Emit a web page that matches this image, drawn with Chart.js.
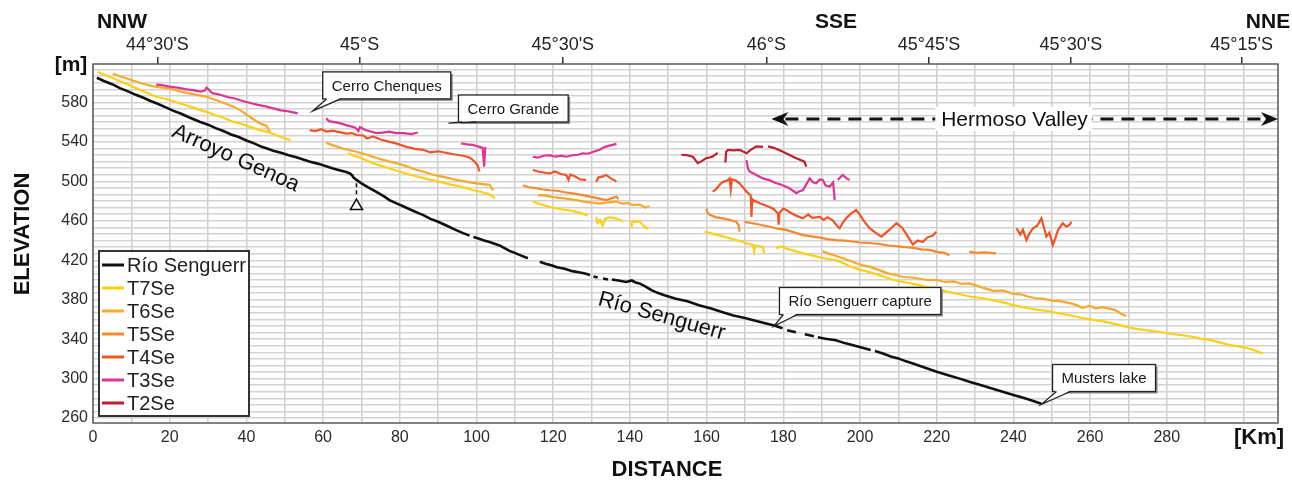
<!DOCTYPE html>
<html>
<head>
<meta charset="utf-8">
<title>Río Senguerr profile</title>
<script src="https://cdn.jsdelivr.net/npm/chart.js@4.4.1/dist/chart.umd.min.js"></script>
<style>
  body { margin: 0; background: #fff; }
  #wrap { width: 1292px; height: 482px; }
</style>
</head>
<body>
<div id="wrap"><canvas id="profile" width="1292" height="482"></canvas></div>
<script>
// DATA (distance in km, elevation in m, null = gap in the profile)
var rioKm = [1,3,5,7,9,11,13,15,17,19,21,23,25,27.8,30,32,34,36,38,40,42,44,45.2,47,49,51,53,55,57,59,61,62.6,64,66,67,67.6,68,68.7,70,72,74,76,77.3,79,81,83,85,86,88,90,92,94.7,96.5,98.2,null,
  99.2,100.5,102,103.4,106,108.6,110,111.5,113.4,null,116.5,118,119.5,121,123,125,127,128.3,129.6,null,130.5,131.6,null,133,134.3,null,
  135.3,137,139,140.5,141.5,142.5,144,145.5,147.2,149,152,155,158,161.2,164,167,170,173,175,177.4,179.8,null,181,183.3,null,185.6,188,null,
  189,191,193.7,196,198,199.9,202.8,null,203.9,206,208,210,212,214,217,220,223,226,228.7,231,234,237,240,243,245,247.3];
var rioElev = [605,601.5,598.5,594.5,591.5,588,585,581.5,578.5,575,571.5,568.5,565,560.5,557.5,554,551,547.5,545,541.5,538.5,535,533.5,531,529,526.5,524.5,522,519.5,517.5,515,513,511.5,509.5,508,506,503.5,501.5,498,493.5,489,484.5,481,478,474.5,471,467.5,466,462,459,455.5,450.5,447.5,445,null,
  443.5,442,440,438.5,435,429.5,427.5,425,422,null,418.5,416.5,415,413,411.5,409,407.5,406.5,405,null,403.5,402.5,null,401.5,400.5,null,
  400.5,399.5,398,399.5,397.5,396.5,393.5,390,387,384.5,381,378.5,374.5,371,367.5,364,361.5,358.5,356.5,354,351,null,349,347,null,345,343,null,
  342,340.5,339,336,334,332,329,null,328,325.5,322.5,320.5,317.5,315,311,307,303.5,300,296.5,294,290.5,287,283.5,280,277.5,274.5];

var t7Km = [1.3,3,5,7,9,11,13,14.5,16.2,18,20,22,24,26,27.8,30,32,34,36.5,38,40,42,43.5,45.2,47,49,51.5,null,
  66.5,68,70,73,75,77,79,81.7,84,86,88,90.4,93,95,97,99.1,101,103,104.2,104.7,null,
  114.7,116.5,119.1,121,123.4,125.5,127.5,129,null,131.2,131.6,132.2,132.9,133.5,134.7,136.5,138.2,null,140.3,140.5,142.5,143.5,144.7,null,
  159.5,161.5,163.5,165.5,167.7,169.5,171,172.1,172.4,172.7,174,174.7,175,null,
  178.2,179.2,179.9,181,183,185.1,187.5,190,192,193.8,196,198,199.9,202,204,206,208,210,212,214.5,217.3,220,223,226,229,232,234.7,237.5,240,243,246,249,252.1,255,258,261,264,267,269.4,272,275,278,281,284,286.8,289,291.5,294,296.5,299,301,303,305.1];
var t7Elev = [611,608,605,601.5,598.5,595,591.5,589,586,584.5,582.5,580,577.5,575,572.5,570,567,564.5,560.5,559,556.5,554,552,550.5,548,545,542,null,
  528.5,526,523.5,518.5,516,513.5,511,508,505.5,503.5,501.5,499.5,497,495.5,493.5,491,489.5,487.5,485,482.5,null,
  479.5,477,474,472.5,471,469.5,467.5,465.5,null,464,458,461,455,462,463.5,462.5,459,null,454,459,459.5,455,452,null,
  449,447,445,443,440.5,438.5,436.5,435.5,429,435,434,433.5,427,null,
  432,434,433.5,431.5,429.5,427,425,422.5,421,420,416.5,413,410.5,408.5,406,403.5,401,399,397.5,395.5,393,391,388,385.5,383,381.5,379.5,377,374.5,372,370,368.5,366,364,361.5,359.5,357.5,355,352.5,350.5,349,347.5,345.5,344,342.3,340.5,339,336.5,334,332.5,331,328.5,325.5];

var t6Km = [5.2,7,9,11,13,16,20,23,26,29.5,32,34.5,36.5,38.5,40.5,42.6,44,45.2,45.7,46.1,null,
  60.8,63,65,67,68.7,71,73,75,77.3,80,82,84,86,88,90,92,94.7,97,99,101,103.4,104,104.4,null,
  116,118,120,123.4,126,128,130,132.1,134,136.5,138,139.5,140.8,142.5,144,145.1,null,
  190.3,192,194,196,199,201,202.5,205,207.5,209.5,211.2,213.5,216,217.3,219.9,222,224.5,226.5,228.5,231,233,234.7,237.3,240,242,244,245.9,248,250,252,254.7,256.5,258.1,259.9,261.5,263,265.1,266.5,268,269.4];
var t6Elev = [609,606.5,604,601.5,599,596,594,591,588.5,586,582.5,579,576,572,566.5,561,558,556.5,553,550.5,null,
  539,536,533.5,531.5,530,527.5,525,522.5,520,517.5,515,512,510,507.5,505.5,504,501.5,500,498.5,497.5,496.5,493,491,null,
  486,485.5,484,482.5,481,479.5,478.5,477.5,478.5,479.5,477.5,478,476,476.5,473.5,475,null,
  429,426.5,424,421.5,417,414.5,413.5,410,406.5,405,403,402.5,401,400,400,398,398.5,396,396.5,393.5,391,389,389.5,386,385.5,383,381.5,381,379,378.5,376.5,374.5,371.5,374,371,372.5,371,369.5,366,363.5];

var t5Km = [112.1,113.5,115,117,119.1,121,123,125.5,127.7,129.5,131.5,133.8,135,136.5,137,null,
  159.9,160.3,160.8,162.5,164.3,166,167.7,168.3,168.6,null,
  169.9,172,174,176.4,178.5,180.5,183,185.1,187,189.5,191.5,193.8,196,198,200,202.5,205,207.5,211.2,214,216,218.1,220,222,223.3,null,
  228.5,230.5,232.5,235.5];
var t5Elev = [496,494,493.5,492,491,490.5,489,487.5,486,484.5,483,481,482.5,484.5,482,null,
  472.5,468,466,463.5,462.5,461,459,456,449,null,
  459,457.5,456,454,452,451,448,445.5,444.5,443,441.5,440.5,440,439,438,437.5,436.5,435,433.5,432.5,431,430.5,428.5,427.5,425,null,
  428.5,427.5,428,427];

var t4Km = [56.5,58,59.5,60.8,62.5,64.3,66,67.5,68.7,70.5,71.5,73,75,77.3,79,81.7,84,86,88,90,92,94,96.5,98,99.1,100.2,100.8,null,
  114.7,116,117.5,119.1,120.5,122,123.4,124,124.5,126,127,128.6,null,131.2,131.8,133,133.8,135,136.5,null,
  161.6,162.5,163.5,164.3,165.5,166,166.3,166.6,167.5,168.6,169.5,170.4,171.5,171.7,171.9,172.1,174,176.4,177.5,178.6,178.8,179,180,180.8,182,183.5,185.1,186.5,187.5,189.5,190.5,191.5,192.9,194,194.7,195.5,196.5,197.7,199,200,201,202.5,204,205.6,206.5,207.7,209.5,211,212.5,213.8,215,216.4,217.5,219,219.9,null,
  240.8,241.8,242.5,243.4,244.2,245.1,246.2,247.3,248,248.6,249.4,250.3,251,251.6,252.9,253.8,254.7,255.1];
var t4Elev = [552,551,553,550.5,551.5,550,548.5,549,547,546.5,543.5,545.5,542.5,540,538.5,535,533,532,529.5,530.5,529,527.5,526,524.5,521.5,517,510,null,
  511.5,510,509,508,510,507.5,506.5,501.5,507,504.5,502,501.5,null,499.5,504,505,506.5,503,500,null,
  489.5,492,497,499.5,501,503,492,502,501,498,494,489.5,486,464,482,481,477.5,474,472,467.5,456,468,472.5,471,468,465,462.5,466.5,463,464,461,463.5,460.5,455,452.5,458,463,467.5,471,466,460,452.5,448,444,447,451,457.5,453,444,436,440,438.5,443,445,449,null,
  452.5,446,451,440.5,447,452.5,455,462.5,453,444,448,435.5,443,450.5,457.5,454,456,459];

var t3Km = [16.5,18,20,22,24,26,28,29.2,29.6,30.2,31,33,35,37,39,41,43,45,47,49,51,53.4,null,
  60.8,61.5,63,64.3,66,68,68.7,69.2,69.6,71,73.9,75.5,77.3,79,81,83,84.7,null,
  96,97.5,99,100.8,101.6,102,102.3,null,
  114.7,116,117.5,119.1,120.5,122,123.4,125,126.5,127.7,129,130.5,132.1,133.5,135,136.5,null,
  170.4,170.8,171.2,172.5,174.7,176.5,178.2,179.5,181,181.6,183.4,184.2,185.1,186,186.9,187.8,188.6,189.5,190.3,191,192.1,193,193.4,null,194.2,195.5,196.5,197.3];
var t3Elev = [598,597.5,596,595,593.5,592.5,591,592,595,593,589.5,588,585.5,584,581.5,579.5,577.5,576,574,572,571,569,null,
  564,561,560,559,557,555,553.5,551,555,552,549,549.5,550.5,549,549,548,549.5,null,
  538.5,537.5,537,535,534,515,535,null,
  525,524,526,526.5,525,526,525,526.5,527,528.5,528,530,532,535,536.5,538,null,
  521.5,513,510,507.5,503,501,498,496.5,494,493,488,490,491,497,503,499,498,502,501.5,496,494.5,499,481,null,501.5,506.5,503,501.5];

var t2Km = [153.4,155,156.4,157.2,157.7,158.5,159.9,161.5,162.9,null,164.9,165.1,165.6,167,168.6,170.4,171.5,173,174.7,null,176,177.5,179.9,181.5,183.4,185.5,186];
var t2Elev = [527,526.5,525,521,518.5,520,523.5,525,529,null,519,530,532,531.5,532,528.5,532,535.5,535,null,535.5,534,530,527,523.5,520,515];

// knickpoint marker below Cerro Chenques
var knickKm = [68.7, 68.7];
var knickElev = [498, 484];
var triangleKm = [68.7];
var triangleElev = [475];

var seriesNames = ["Río Senguerr", "T7Se", "T6Se", "T5Se", "T4Se", "T3Se", "T2Se"];
var seriesColors = ["#111111", "#fcd015", "#f8aa2b", "#f5892d", "#ef5427", "#dc3593", "#bd1f2d"];

// axis ticks
var distTicks = [0,10,20,30,40,50,60,70,80,90,100,110,120,130,140,150,160,170,180,190,200,210,220,230,240,250,260,270,280,290,300];
var latKm = [16.8, 69.5, 122.5, 175.6, 218, 255, 299.5];
var latLabels = ["44°30'S", "45°S", "45°30'S", "46°S", "45°45'S", "45°30'S", "45°15'S"];

// annotations (anchored in km / m)
var notes = [
  {text: "Cerro Chenques", left: 59.9, top: 611, tipKm: 57.3, tipM: 571.4},
  {text: "Cerro Grande", left: 95.3, top: 587.6, tipKm: 92.7, tipM: 559.1},
  {text: "Río Senguerr capture", left: 179, top: 392.4, tipKm: 177.5, tipM: 353.1},
  {text: "Musters lake", left: 250.2, top: 314.3, tipKm: 247.3, tipM: 273.9}
];
var riverLabels = [
  {text: "Arroyo Genoa", km: 37.2, m: 523.4, angle: 24},
  {text: "Río Senguerr", km: 148.3, m: 363.2, angle: 15.5}
];
var valley = {text: "Hermoso Valley", fromKm: 176.9, toKm: 309, m: 563.2, textKm: 240.3};

var FONT = "'Liberation Sans', Arial, Helvetica, sans-serif";
Chart.defaults.font.family = FONT;
Chart.defaults.color = "#2a2a2a";

function toPoints(km, elev) {
  var out = [];
  var last = 0;
  for (var i = 0; i < km.length; i++) {
    if (km[i] === null) {
      out.push({x: last, y: null});
      continue;
    }
    last = km[i];
    out.push({x: km[i], y: elev[i]});
  }
  return out;
}

var allKm = [rioKm, t7Km, t6Km, t5Km, t4Km, t3Km, t2Km];
var allElev = [rioElev, t7Elev, t6Elev, t5Elev, t4Elev, t3Elev, t2Elev];

var datasets = [];
// terraces first, river on top
for (var s = allKm.length - 1; s >= 0; s--) {
  datasets.push({
    label: seriesNames[s],
    data: toPoints(allKm[s], allElev[s]),
    borderColor: seriesColors[s],
    borderWidth: s === 0 ? 2.6 : 2.2,
    pointRadius: 0,
    spanGaps: false,
    tension: 0
  });
}
datasets.push({
  label: "knick",
  data: toPoints(knickKm, knickElev),
  borderColor: "#111",
  borderWidth: 1.5,
  borderDash: [4, 3],
  pointRadius: 0
});
datasets.push({
  label: "knick marker",
  type: "scatter",
  data: toPoints(triangleKm, triangleElev),
  pointStyle: "triangle",
  pointRadius: 7,
  backgroundColor: "#fff",
  borderColor: "#111",
  borderWidth: 1.5
});

// everything drawn on top of the plot
var decorPlugin = {
  id: "decor",
  afterDatasetsDraw: function(chart) {
    var c = chart.ctx;
    var xs = chart.scales.x, ys = chart.scales.y, a = chart.chartArea;
    var px = function(v) { return xs.getPixelForValue(v); };
    var py = function(v) { return ys.getPixelForValue(v); };
    c.save();

    // plot frame
    c.strokeStyle = "#5a5a5a";
    c.lineWidth = 1.5;
    c.strokeRect(a.left, a.top, a.right - a.left, a.bottom - a.top);

    // rotated river names
    c.fillStyle = "#111";
    c.font = "22px " + FONT;
    c.textAlign = "center";
    c.textBaseline = "middle";
    riverLabels.forEach(function(r) {
      c.save();
      c.translate(px(r.km), py(r.m));
      c.rotate(r.angle * Math.PI / 180);
      c.fillText(r.text, 0, 0);
      c.restore();
    });

    // Hermoso Valley double arrow
    var y = py(valley.m), x1 = px(valley.fromKm), x2 = px(valley.toKm);
    c.strokeStyle = "#111";
    c.lineWidth = 3;
    c.setLineDash([13, 8]);
    c.beginPath();
    c.moveTo(x1 + 14, y);
    c.lineTo(x2 - 14, y);
    c.stroke();
    c.setLineDash([]);
    c.fillStyle = "#111";
    c.beginPath();
    c.moveTo(x1, y); c.lineTo(x1 + 17, y - 7); c.lineTo(x1 + 12, y); c.lineTo(x1 + 17, y + 7); c.closePath();
    c.fill();
    c.beginPath();
    c.moveTo(x2, y); c.lineTo(x2 - 17, y - 7); c.lineTo(x2 - 12, y); c.lineTo(x2 - 17, y + 7); c.closePath();
    c.fill();
    c.font = "21px " + FONT;
    var tw = c.measureText(valley.text).width;
    var tx = px(valley.textKm);
    c.fillStyle = "#fff";
    c.fillRect(tx - tw / 2 - 6, y - 12, tw + 10, 24);
    c.fillStyle = "#111";
    c.fillText(valley.text, tx, y + 1);

    // callout boxes
    c.font = "15px " + FONT;
    c.textAlign = "left";
    notes.forEach(function(n) {
      var bx = px(n.left), by = py(n.top);
      var w = c.measureText(n.text).width + 18, h = 27;
      var tipX = px(n.tipKm), tipY = py(n.tipM);
      c.fillStyle = "#8a8a8a";
      c.fillRect(bx + 2, by + 2, w, h);
      c.fillStyle = "#fff";
      c.fillRect(bx, by, w, h);
      c.strokeStyle = "#222";
      c.lineWidth = 1.3;
      c.strokeRect(bx, by, w, h);
      c.beginPath();
      c.moveTo(bx + 4, by + h - 1);
      c.lineTo(tipX, tipY);
      c.lineTo(bx + 18, by + h - 1);
      c.closePath();
      c.fillStyle = "#fff";
      c.fill();
      c.beginPath();
      c.moveTo(bx + 4, by + h);
      c.lineTo(tipX, tipY);
      c.lineTo(bx + 18, by + h);
      c.stroke();
      c.fillStyle = "#1a1a1a";
      c.fillText(n.text, bx + 9, by + h / 2 + 1);
    });

    // legend box
    var lx = a.left + 6, ly = a.bottom - 172;
    c.fillStyle = "#fff";
    c.fillRect(lx, ly, 150, 165);
    c.strokeStyle = "#333";
    c.lineWidth = 2;
    c.strokeRect(lx, ly, 150, 165);
    c.font = "20px " + FONT;
    for (var i = 0; i < seriesNames.length; i++) {
      var ry = ly + 14 + i * 23;
      c.strokeStyle = seriesColors[i];
      c.lineWidth = 3;
      c.beginPath();
      c.moveTo(lx + 3, ry);
      c.lineTo(lx + 25, ry);
      c.stroke();
      c.fillStyle = "#222";
      c.fillText(seriesNames[i], lx + 28, ry + 1);
    }
    c.restore();
  },
  afterDraw: function(chart) {
    var c = chart.ctx;
    c.save();
    c.fillStyle = "#111";
    c.textAlign = "center";
    c.textBaseline = "middle";
    c.font = "bold 21px " + FONT;
    c.fillText("NNW", 122, 22);
    c.fillText("SSE", 836, 22);
    c.fillText("NNE", 1268, 22);
    c.fillText("[m]", 71, 65);
    c.font = "bold 22px " + FONT;
    c.fillText("[Km]", 1259, 438);
    c.fillText("DISTANCE", 667, 470);
    c.save();
    c.translate(23, 234);
    c.rotate(-Math.PI / 2);
    c.fillText("ELEVATION", 0, 0);
    c.restore();
    c.restore();
  }
};

var ctx = document.getElementById("profile").getContext("2d");
var chart = new Chart(ctx, {
  type: "line",
  data: { datasets: datasets },
  plugins: [decorPlugin],
  options: {
    responsive: false,
    animation: false,
    layout: { padding: { left: 0, right: 14, top: 0, bottom: 0 } },
    plugins: { legend: { display: false }, tooltip: { enabled: false } },
    scales: {
      x: {
        type: "linear",
        position: "bottom",
        min: 0,
        max: 309,
        afterBuildTicks: function(s) { s.ticks = distTicks.map(function(v) { return {value: v}; }); },
        afterFit: function(s) { s.height = 59; },
        ticks: {
          autoSkip: false,
          maxRotation: 0,
          padding: 5,
          font: { size: 16 },
          color: "#2a2a2a",
          callback: function(v) { return v % 20 === 0 && v <= 280 ? v : ""; }
        },
        grid: { color: "#cfcfcf", lineWidth: 1.5, drawTicks: false },
        border: { display: false }
      },
      x2: {
        type: "linear",
        position: "top",
        min: 0,
        max: 309,
        afterBuildTicks: function(s) { s.ticks = latKm.map(function(v) { return {value: v}; }); },
        afterFit: function(s) { s.height = 64; },
        ticks: {
          autoSkip: false,
          maxRotation: 0,
          padding: 1,
          font: { size: 18 },
          color: "#222",
          callback: function(v, i) { return latLabels[i]; }
        },
        grid: { drawOnChartArea: false, drawTicks: true, tickLength: 7, color: "#333", lineWidth: 1.5 },
        border: { display: false }
      },
      y: {
        type: "linear",
        min: 255,
        max: 619,
        afterBuildTicks: function(s) {
          var t = [];
          for (var k = 0; 260 + k * 40 / 6 <= 619; k++) t.push({value: 260 + k * 40 / 6});
          s.ticks = t;
        },
        afterFit: function(s) { s.width = 93; },
        ticks: {
          autoSkip: false,
          padding: 5,
          font: { size: 16 },
          color: "#2a2a2a",
          callback: function(v) {
            var q = (v - 260) / 40;
            return Math.abs(q - Math.round(q)) < 1e-6 ? Math.round(v) : "";
          }
        },
        grid: { color: "#d3d3d3", lineWidth: 1.5, drawTicks: false },
        border: { display: false }
      }
    }
  }
});
</script>
</body>
</html>
